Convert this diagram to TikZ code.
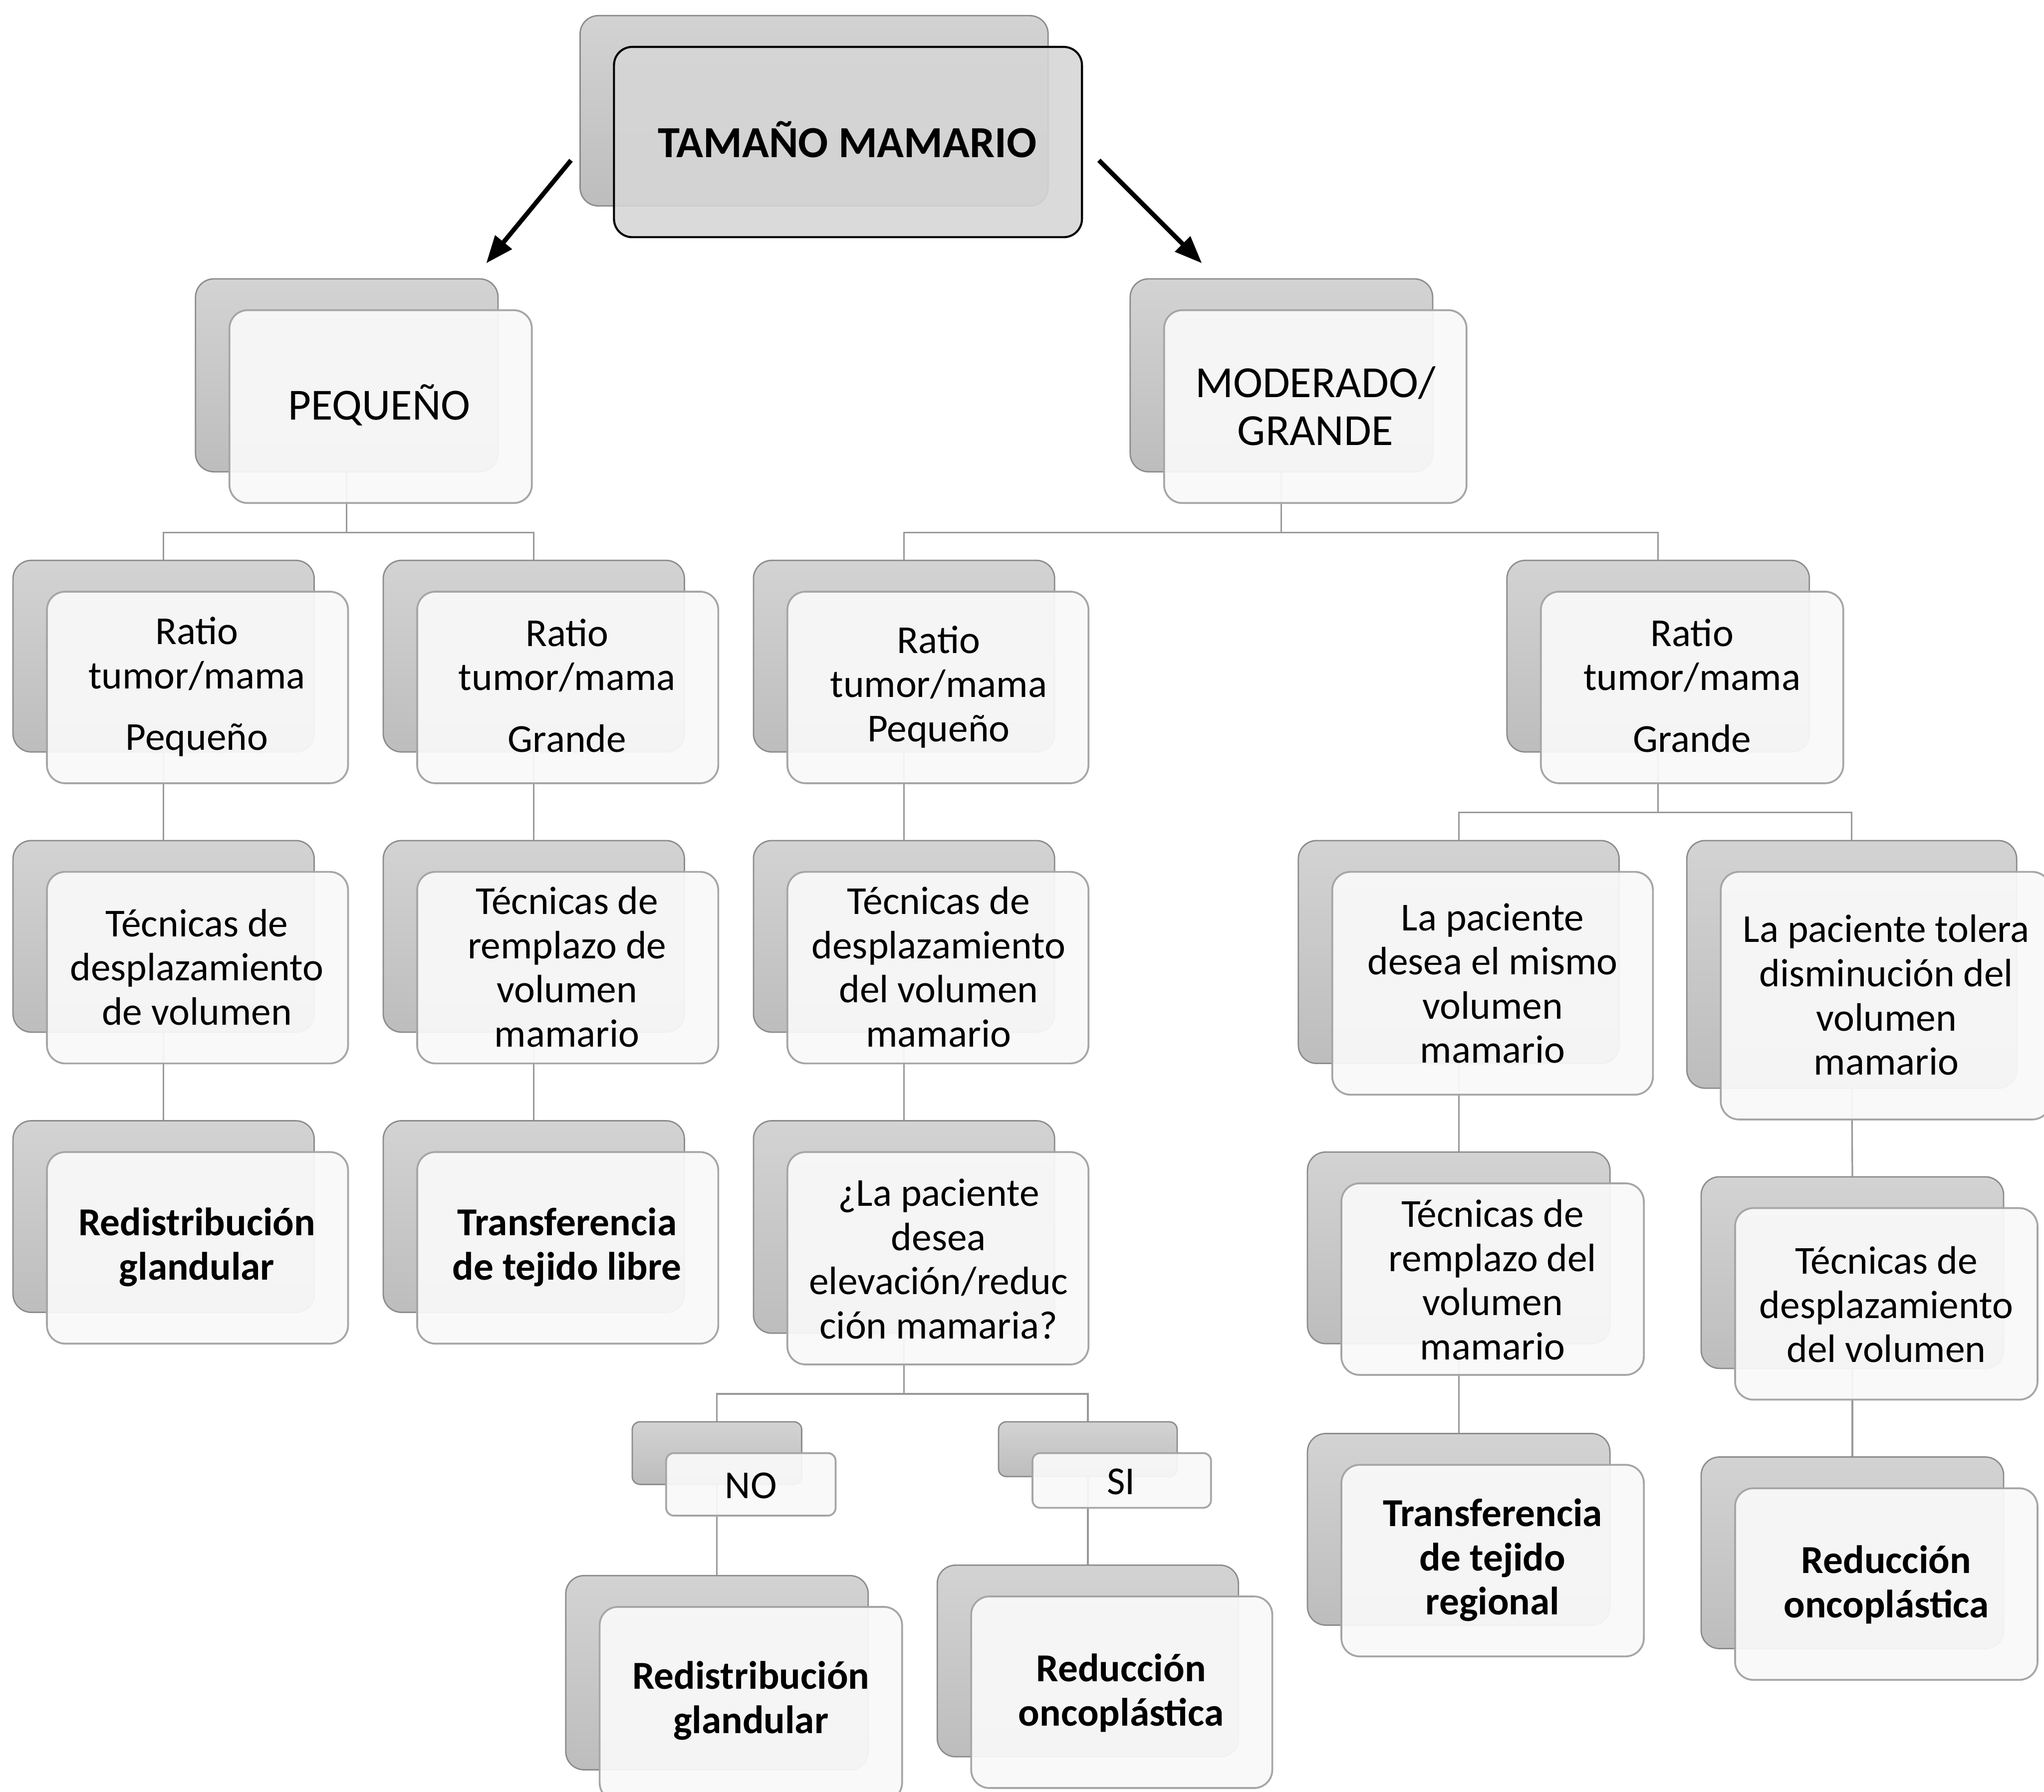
\documentclass[tikz,border=0pt]{standalone}
\usepackage{fontspec}
\setmainfont{Carlito}
\usetikzlibrary{fit,arrows.meta}
\pgfdeclarelayer{bg}
\pgfsetlayers{bg,main}
\definecolor{backtop}{HTML}{D3D3D3}
\definecolor{backbot}{HTML}{BDBDBD}
\definecolor{backline}{HTML}{8C8C8C}
\definecolor{frontfill}{HTML}{F9F9F9}
\definecolor{frontline}{HTML}{A6A6A6}
\definecolor{topfill}{HTML}{D6D6D6}
\definecolor{conncol}{HTML}{999999}
\tikzset{
  backbox/.style={draw=backline, line width=0.6pt, rounded corners=0.28cm, top color=backtop, bottom color=backbot, inner sep=0pt},
  frontbox/.style={draw=frontline, line width=0.8pt, rounded corners=0.28cm, fill=frontfill, fill opacity=0.93, inner sep=0pt},
  topfront/.style={draw=black, line width=0.9pt, fill=topfill, fill opacity=0.88},
  txt/.style={font=\fontsize{17.3}{19.3}\selectfont, align=center, inner sep=0pt},
  btxt/.style={font=\fontsize{17.3}{19.3}\selectfont\bfseries, align=center, inner sep=0pt},
  bigtxt/.style={font=\fontsize{19.4}{21}\selectfont, align=center, inner sep=0pt},
  conn/.style={draw=conncol, line width=0.7pt},
  arr/.style={draw=black, line width=2pt, -{Triangle[length=0.42cm, width=0.32cm]}}
}
% #1 options for both boxes, #2 options for front, #3 name, #4..#7 back corners
\newcommand\duo[7][]{%
  \node[backbox, #1, fit={(#4,#5)(#6,#7)}] (#3-b) {};
  \node[frontbox, #1, #2, fit={(#4+26,#5+24)(#6+26,#7+24)}] (#3-f) {};
}
\begin{document}
\begin{tikzpicture}[x=0.02cm, y=-0.02cm]
\useasboundingbox (0,0) rectangle (1568,1375);
\begin{pgfonlayer}{bg}
\fill[white] (0,0) rectangle (1568,1375);
\end{pgfonlayer}

% boxes
\duo{topfront}{top}{445}{12}{804}{158}
\duo{}{peq}{150}{214}{382}{362}
\duo{}{mod}{867}{214}{1099}{362}
\duo{}{a1}{10}{430}{241}{577}
\duo{}{a2}{294}{430}{525}{577}
\duo{}{b1}{578}{430}{809}{577}
\duo{}{b2}{1156}{430}{1388}{577}
\duo{}{a1t}{10}{645}{241}{792}
\duo{}{a2t}{294}{645}{525}{792}
\duo{}{b1t}{578}{645}{809}{792}
\duo{}{c1}{996}{645}{1242}{816}
\duo{}{c2}{1294}{645}{1547}{835}
\duo{}{a1r}{10}{860}{241}{1007}
\duo{}{a2r}{294}{860}{525}{1007}
\duo{}{b1q}{578}{860}{809}{1023}
\duo{}{c1t}{1003}{884}{1235}{1031}
\duo{}{c2t}{1305}{903}{1537}{1050}
\duo{}{c1r}{1003}{1100}{1235}{1247}
\duo{}{c2r}{1305}{1118}{1537}{1265}
\duo[rounded corners=0.12cm]{}{no}{485}{1091}{615}{1139}
\duo[rounded corners=0.12cm]{}{si}{766}{1091}{903}{1133}
\duo{}{nor}{434}{1209}{666}{1358}
\duo{}{sir}{719}{1201}{950}{1348}

% texts
\node[bigtxt, font=\fontsize{19.4}{21}\selectfont\bfseries] (top-t) at (650,107) {TAMAÑO MAMARIO};
\node[bigtxt] (peq-t) at (291,311) {PEQUEÑO};
\node[bigtxt] (mod-t) at (1009,311.5) {MODERADO/\\GRANDE};
\node[txt] (a1-tx) at (151,527) {Ratio\\tumor/mama\\[7.5pt]Pequeño};
\node[txt] (a2-tx) at (435,526) {Ratio\\tumor/mama\\[7.5pt]Grande};
\node[txt] (b1-tx) at (720,527) {Ratio\\tumor/mama\\Pequeño};
\node[txt] (b2-tx) at (1298,526) {Ratio\\tumor/mama\\[7.5pt]Grande};
\node[txt] (a1t-tx) at (151,742) {Técnicas de\\desplazamiento\\de volumen};
\node[txt] (a2t-tx) at (435,742) {Técnicas de\\remplazo de\\volumen\\mamario};
\node[txt] (b1t-tx) at (720,742) {Técnicas de\\desplazamiento\\del volumen\\mamario};
\node[txt] (c1-tx) at (1145,754.5) {La paciente\\desea el mismo\\volumen\\mamario};
\node[txt] (c2-tx) at (1447,763.5) {La paciente tolera\\disminución del\\volumen\\mamario};
\node[btxt] (a1r-tx) at (151,957) {Redistribución\\glandular};
\node[btxt] (a2r-tx) at (435,957) {Transferencia\\de tejido libre};
\node[txt] (b1q-tx) at (720,966) {¿La paciente\\desea\\elevación/reduc\\ción mamaria?};
\node[txt] (c1t-tx) at (1145,982) {Técnicas de\\remplazo del\\volumen\\mamario};
\node[txt] (c2t-tx) at (1447,1001) {Técnicas de\\desplazamiento\\del volumen};
\node[btxt] (c1r-tx) at (1145,1197) {Transferencia\\de tejido\\regional};
\node[btxt] (c2r-tx) at (1447,1216) {Reducción\\oncoplástica};
\node[txt] (no-tx) at (576,1140) {NO};
\node[txt] (si-tx) at (860,1137) {SI};
\node[btxt] (nor-tx) at (576,1305) {Redistribución\\glandular};
\node[btxt] (sir-tx) at (860,1299) {Reducción\\oncoplástica};

% arrows
\coordinate (al1) at (438,123);
\coordinate (al2) at (373,202);
\coordinate (ar1) at (843,123);
\coordinate (ar2) at (922,202);
\draw[arr] (al1) -- (al2);
\draw[arr] (ar1) -- (ar2);

% connectors
\begin{pgfonlayer}{bg}
\path (peq-b.south) -- ++(0,46) coordinate (jp);
\draw[conn] (peq-b.south) -- (jp);
\draw[conn] (jp) -| (a1-b.north);
\draw[conn] (jp) -| (a2-b.north);
\path (mod-b.south) -- ++(0,46) coordinate (jm);
\draw[conn] (mod-b.south) -- (jm);
\draw[conn] (jm) -| (b1-b.north);
\draw[conn] (jm) -| (b2-b.north);
\draw[conn] (a1-b.south) -- (a1t-b.north);
\draw[conn] (a1t-b.south) -- (a1r-b.north);
\draw[conn] (a2-b.south) -- (a2t-b.north);
\draw[conn] (a2t-b.south) -- (a2r-b.north);
\draw[conn] (b1-b.south) -- (b1t-b.north);
\draw[conn] (b1t-b.south) -- (b1q-b.north);
\path (b2-b.south) -- ++(0,46) coordinate (jb);
\draw[conn] (b2-b.south) -- (jb);
\draw[conn] (jb) -| (c1-b.north);
\draw[conn] (jb) -| (c2-b.north);
\draw[conn] (c1-b.south) -- (c1t-b.north);
\draw[conn] (c1t-b.south) -- (c1r-b.north);
\draw[conn] (c2-b.south) -- (c2t-b.north);
\draw[conn] (c2t-b.south) -- (c2r-b.north);
\path (b1q-b.south) -- ++(0,46) coordinate (jq);
\draw[conn] (b1q-b.south) -- (jq);
\draw[conn] (jq) -| (no-b.north);
\draw[conn] (jq) -| (si-b.north);
\draw[conn] (no-b.south) -- (nor-b.north);
\draw[conn] (si-b.south) -- (sir-b.north);
\end{pgfonlayer}
\end{tikzpicture}
\end{document}
